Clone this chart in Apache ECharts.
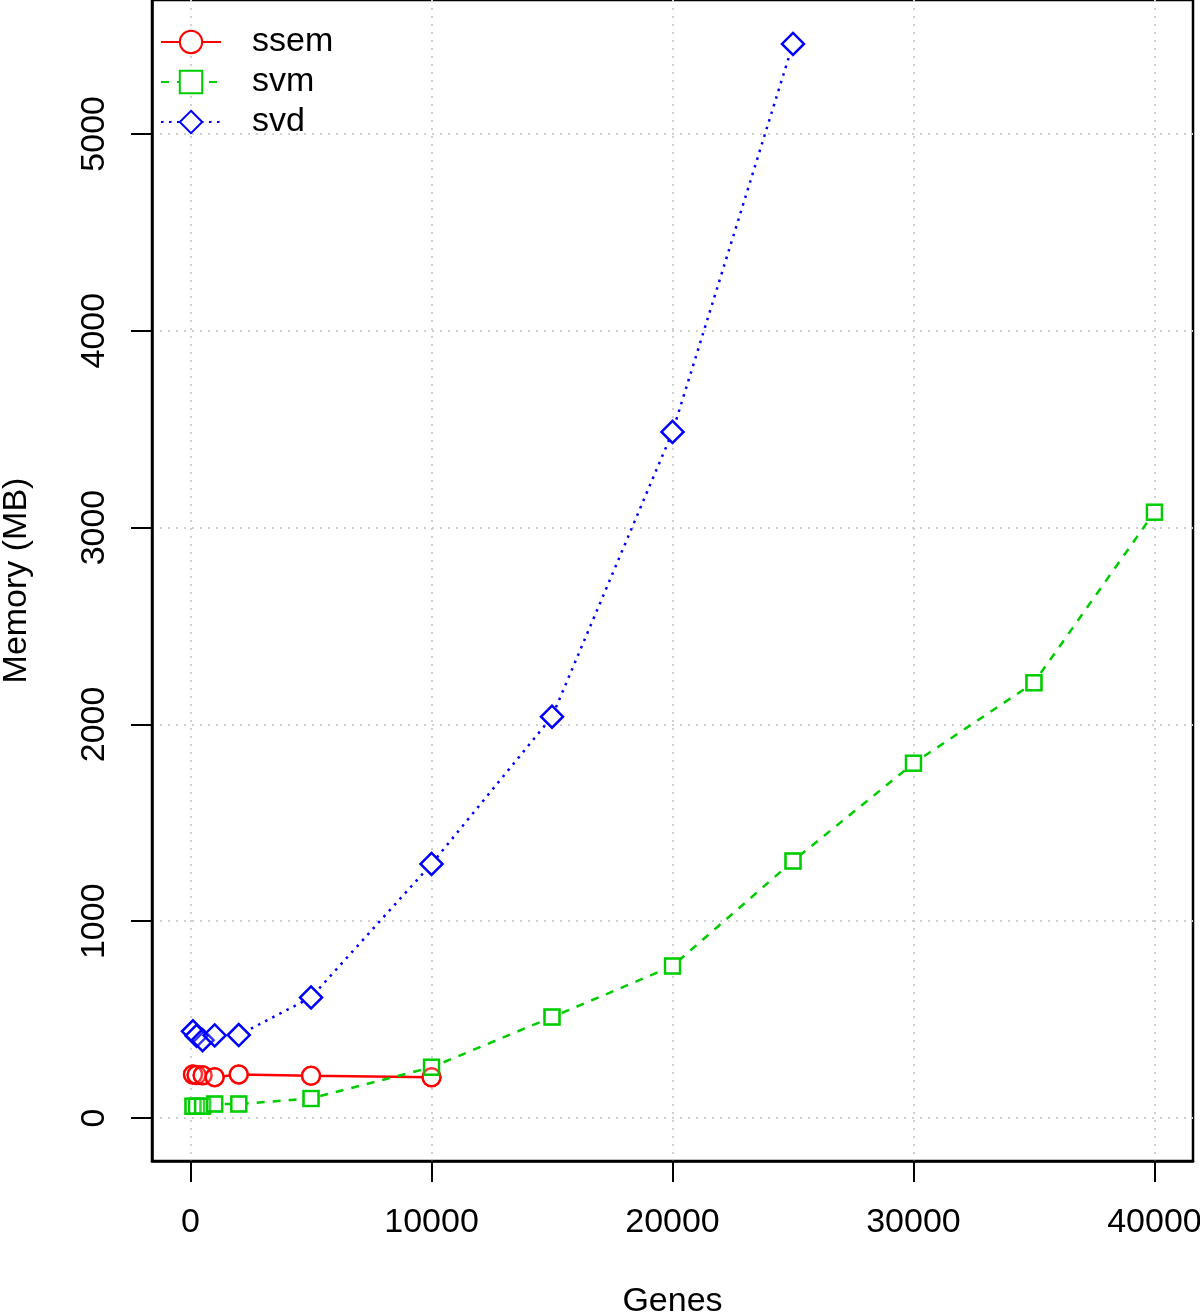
<!DOCTYPE html>
<html>
<head>
<meta charset="utf-8">
<script src="https://cdn.jsdelivr.net/npm/echarts@6/dist/echarts.min.js"></script>
<style>
html,body{margin:0;padding:0;background:#fff;}
#chart{width:1200px;height:1314px;}
</style>
</head>
<body>
<div id="chart"></div>
<script>
// Data
const ssemGenes = [100, 250, 500, 1000, 2000, 5000, 10000];
const ssemMem   = [221, 219, 217, 208, 222, 215, 207];

const svmGenes = [100, 250, 500, 1000, 2000, 5000, 10000, 15000, 20000, 25000, 30000, 35000, 40000];
const svmMem   = [60, 60, 60, 71, 71, 100, 258, 513, 772, 1306, 1802, 2212, 3078];

const svdGenes = [100, 250, 500, 1000, 2000, 5000, 10000, 15000, 20000, 25000];
const svdMem   = [441, 418, 396, 420, 422, 613, 1291, 2039, 3486, 5457];

const xTicks = [0, 10000, 20000, 30000, 40000];
const yTicks = [0, 1000, 2000, 3000, 4000, 5000];

const RED = '#FF0000', GREEN = '#00CD00', BLUE = '#0000FF';
const FONT = "'Liberation Sans', Arial, sans-serif";
const FS = 34;

function pairs(xs, ys) { return xs.map((x, i) => [x, ys[i]]); }

function lineSeries(name, xs, ys, color, symbol, size, type) {
  return {
    name: name, type: 'line', data: pairs(xs, ys),
    symbol: symbol, symbolSize: size, showSymbol: true,
    lineStyle: { color: color, width: 2.5, type: type },
    itemStyle: { color: color, borderColor: color, borderWidth: 2.5 },
    animation: false, z: 2
  };
}
function outlineSeries(xs, ys, color, symbol, size) {
  return {
    name: 'outline', type: 'scatter', data: pairs(xs, ys),
    symbol: symbol, symbolSize: size,
    itemStyle: { color: 'rgba(0,0,0,0)', borderColor: color, borderWidth: 2.5 },
    animation: false, z: 3, silent: true
  };
}

const chart = echarts.init(document.getElementById('chart'), null, { renderer: 'canvas' });

const gridLine = { show: true, lineStyle: { color: '#d0d0d0', width: 2, type: [2, 6] } };
const plain = v => String(v);

chart.setOption({
  backgroundColor: '#ffffff',
  animation: false,
  textStyle: { fontFamily: FONT },
  grid: { left: 152, right: 7, top: 0, bottom: 153, outerBoundsMode: 'none', containLabel: false,
          show: true, borderColor: '#000', borderWidth: 2.5, backgroundColor: 'transparent' },
  legend: {
    left: 160, top: 24, orient: 'vertical', padding: 0,
    itemWidth: 60, itemHeight: 28, itemGap: 4,
    data: ['ssem', 'svm', 'svd'],
    textStyle: { fontSize: FS, color: '#000', fontFamily: FONT, padding: [0, 0, 0, 26], lineHeight: 36 }
  },
  xAxis: {
    type: 'value', min: -1600, max: 41600,
    name: 'Genes', nameLocation: 'middle', nameGap: 124,
    nameTextStyle: { fontSize: FS, color: '#000', fontFamily: FONT },
    axisLine: { show: true, onZero: false, lineStyle: { color: '#000', width: 2.5 } },
    axisTick: { show: true, inside: false, length: 21, customValues: xTicks, lineStyle: { color: '#000', width: 2 } },
    axisLabel: { show: true, customValues: xTicks, formatter: plain, fontSize: FS, color: '#000', margin: 45, fontFamily: FONT },
    splitLine: gridLine
  },
  yAxis: {
    type: 'value', min: -218, max: 5680,
    name: 'Memory (MB)', nameLocation: 'middle', nameGap: 118, nameRotate: 90,
    nameTextStyle: { fontSize: FS, color: '#000', fontFamily: FONT },
    axisLine: { show: true, onZero: false, lineStyle: { color: '#000', width: 2.5 } },
    axisTick: { show: true, inside: false, length: 21, customValues: yTicks, lineStyle: { color: '#000', width: 2 } },
    axisLabel: { show: true, customValues: yTicks, formatter: plain, fontSize: FS, color: '#000', margin: 40, rotate: 90, fontFamily: FONT },
    splitLine: gridLine
  },
  series: [
    lineSeries('ssem', ssemGenes, ssemMem, RED, 'emptyCircle', 18, 'solid'),
    lineSeries('svm', svmGenes, svmMem, GREEN, 'emptyRect', 15, [8, 8]),
    lineSeries('svd', svdGenes, svdMem, BLUE, 'emptyDiamond', 22, [2.5, 5.5]),
    outlineSeries(ssemGenes, ssemMem, RED, 'circle', 18),
    outlineSeries(svmGenes, svmMem, GREEN, 'rect', 15),
    outlineSeries(svdGenes, svdMem, BLUE, 'diamond', 22)
  ]
});
</script>
</body>
</html>
